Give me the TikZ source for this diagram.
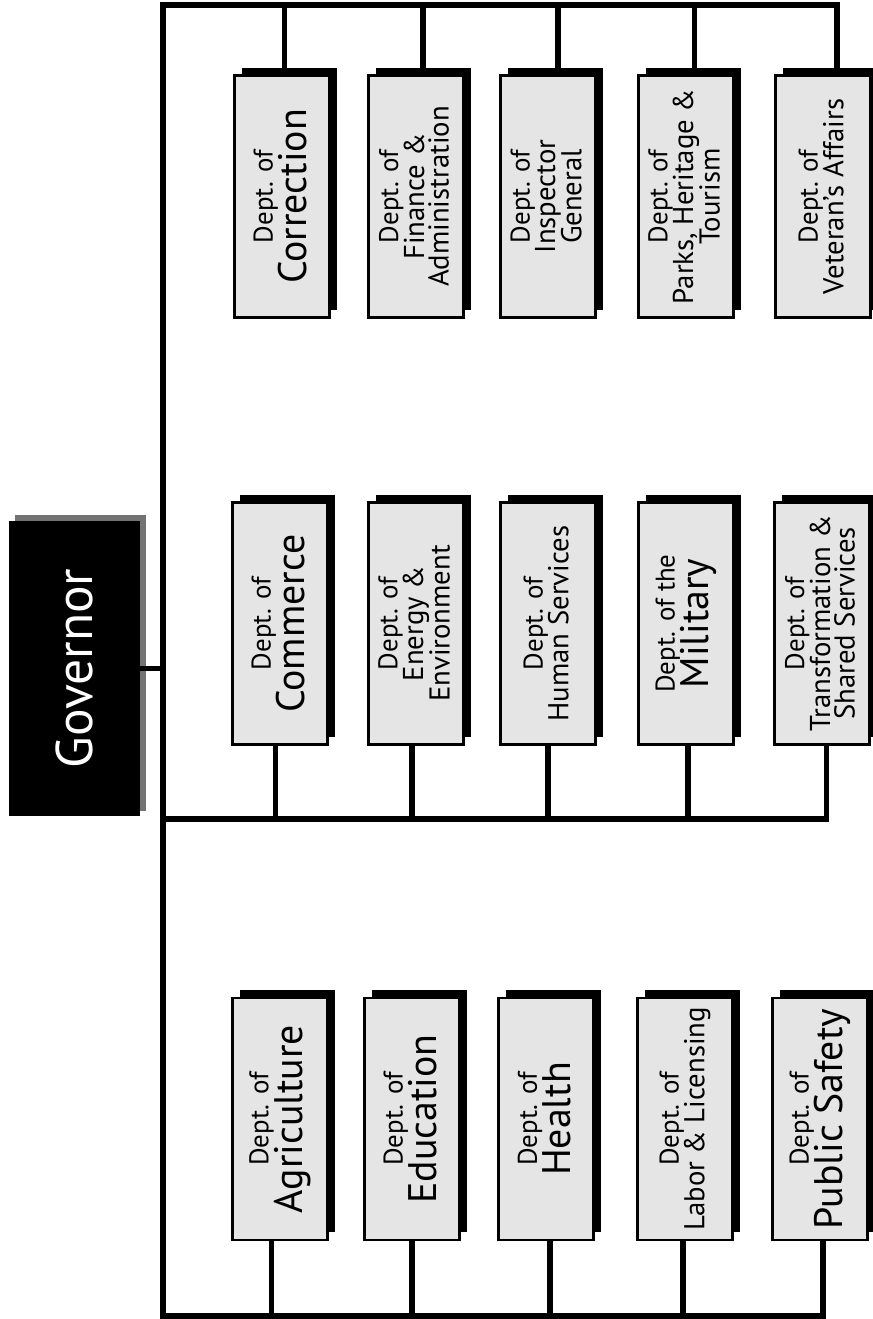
\documentclass[tikz,border=0pt]{standalone}
\usepackage{fontspec}
\setmainfont{PT Sans}
\usepackage{graphicx}
\usetikzlibrary{shadows}
\newcommand{\Dsm}[1]{{\fontsize{23}{23}\selectfont #1}}
\newcommand{\Dbig}[1]{{\fontsize{34}{34}\selectfont #1}}
\newcommand{\Dmid}[1]{{\fontsize{24.5}{24.5}\selectfont #1}}
\newcommand{\Rot}[1]{\rotatebox{90}{\begin{tabular}{@{}c@{}}#1\end{tabular}}}
\tikzset{
  dept/.style={draw=black, line width=2.2pt, fill=black!10, inner sep=0pt,
    minimum width=95*0.8504pt, minimum height=243*0.8504pt,
    drop shadow={shadow xshift=6.5pt, shadow yshift=6.5pt, fill=black, opacity=1}},
  govbox/.style={fill=black, text=white, inner sep=0pt,
    minimum width=131*0.8504pt, minimum height=297*0.8504pt,
    drop shadow={shadow xshift=5pt, shadow yshift=5pt, fill=black!55, opacity=1}},
  bus/.style={line width=4.5pt, line join=miter}
}
\begin{document}
\begin{tikzpicture}[x=0.03cm, y=-0.03cm]
\useasboundingbox (0,0) rectangle (873,1319);
% Governor
\node[govbox] (gov) at (74.5,668.5) {\rotatebox{90}{\fontsize{44}{44}\selectfont Governor}};
% top column
\node[dept] (corr) at (282,196.5) {\Rot{\Dsm{Dept. of}\\ \Dbig{Correction}}};
\node[dept] (fin)  at (416,196.5) {\Rot{\Dsm{Dept. of}\\ \Dmid{Finance \&}\\ \Dmid{Administration}}};
\node[dept] (insp) at (548,196.5) {\Rot{\Dsm{Dept. of}\\ \Dmid{Inspector}\\ \Dmid{General}}};
\node[dept] (park) at (686,196.5) {\Rot{\Dsm{Dept. of}\\ \Dmid{Parks, Heritage \&}\\ \Dmid{Tourism}}};
\node[dept] (vet)  at (823,196.5) {\Rot{\Dsm{Dept. of}\\ \Dmid{Veteran's Affairs}}};
% middle column
\node[dept] (comm) at (280,623.5) {\Rot{\Dsm{Dept. of}\\ \Dbig{Commerce}}};
\node[dept] (ener) at (416,623.5) {\Rot{\Dsm{Dept. of}\\ \Dmid{Energy \&}\\ \Dmid{Environment}}};
\node[dept] (hum)  at (548,623.5) {\Rot{\Dsm{Dept. of}\\ \Dmid{Human Services}}};
\node[dept] (mil)  at (686,623.5) {\Rot{\Dsm{Dept. of the}\\ \Dbig{Military}}};
\node[dept] (trans) at (822,623.5) {\Rot{\Dsm{Dept. of}\\ \Dmid{Transformation \&}\\ \Dmid{Shared Services}}};
% bottom column
\node[dept] (agri) at (280,1119) {\Rot{\Dsm{Dept. of}\\ \Dbig{Agriculture}}};
\node[dept] (edu)  at (412,1119) {\Rot{\Dsm{Dept. of}\\ \Dbig{Education}}};
\node[dept] (hlth) at (546,1119) {\Rot{\Dsm{Dept. of}\\ \Dbig{Health}}};
\node[dept] (lab)  at (685,1119) {\Rot{\Dsm{Dept. of}\\ \Dmid{Labor \& Licensing}}};
\node[dept] (psaf) at (820,1119) {\Rot{\Dsm{Dept. of}\\ \Dbig{Public Safety}}};
% bus coordinates
\coordinate (tT) at (163,5);
\coordinate (tM) at (163,819);
\coordinate (tB) at (163,1316);
% trunk with top and bottom buses
\draw[bus] ([xshift=12pt]vet.north) -- ([xshift=12pt]vet.north |- tT) -- (tT) -- (tB)
  -- ([xshift=2.5pt]psaf.south |- tB) -- ([xshift=2.5pt]psaf.south);
\draw[bus] (gov.east) -- (gov.east -| tT);
\draw[bus] (tM) -- ([xshift=4pt]trans.south |- tM) -- ([xshift=4pt]trans.south);
\foreach \n/\d in {corr/2,fin/6,insp/8.5,park/7.5}
  {\draw[bus] ([xshift=\d pt]\n.north) -- ([xshift=\d pt]\n.north |- tT);}
\foreach \n/\d in {comm/-4,ener/-3.5,hum/0,mil/1.7}
  {\draw[bus] ([xshift=\d pt]\n.south) -- ([xshift=\d pt]\n.south |- tM);}
\foreach \n/\d in {agri/-7,edu/0,hlth/3.5,lab/-1.7}
  {\draw[bus] ([xshift=\d pt]\n.south) -- ([xshift=\d pt]\n.south |- tB);}
\end{tikzpicture}
\end{document}
